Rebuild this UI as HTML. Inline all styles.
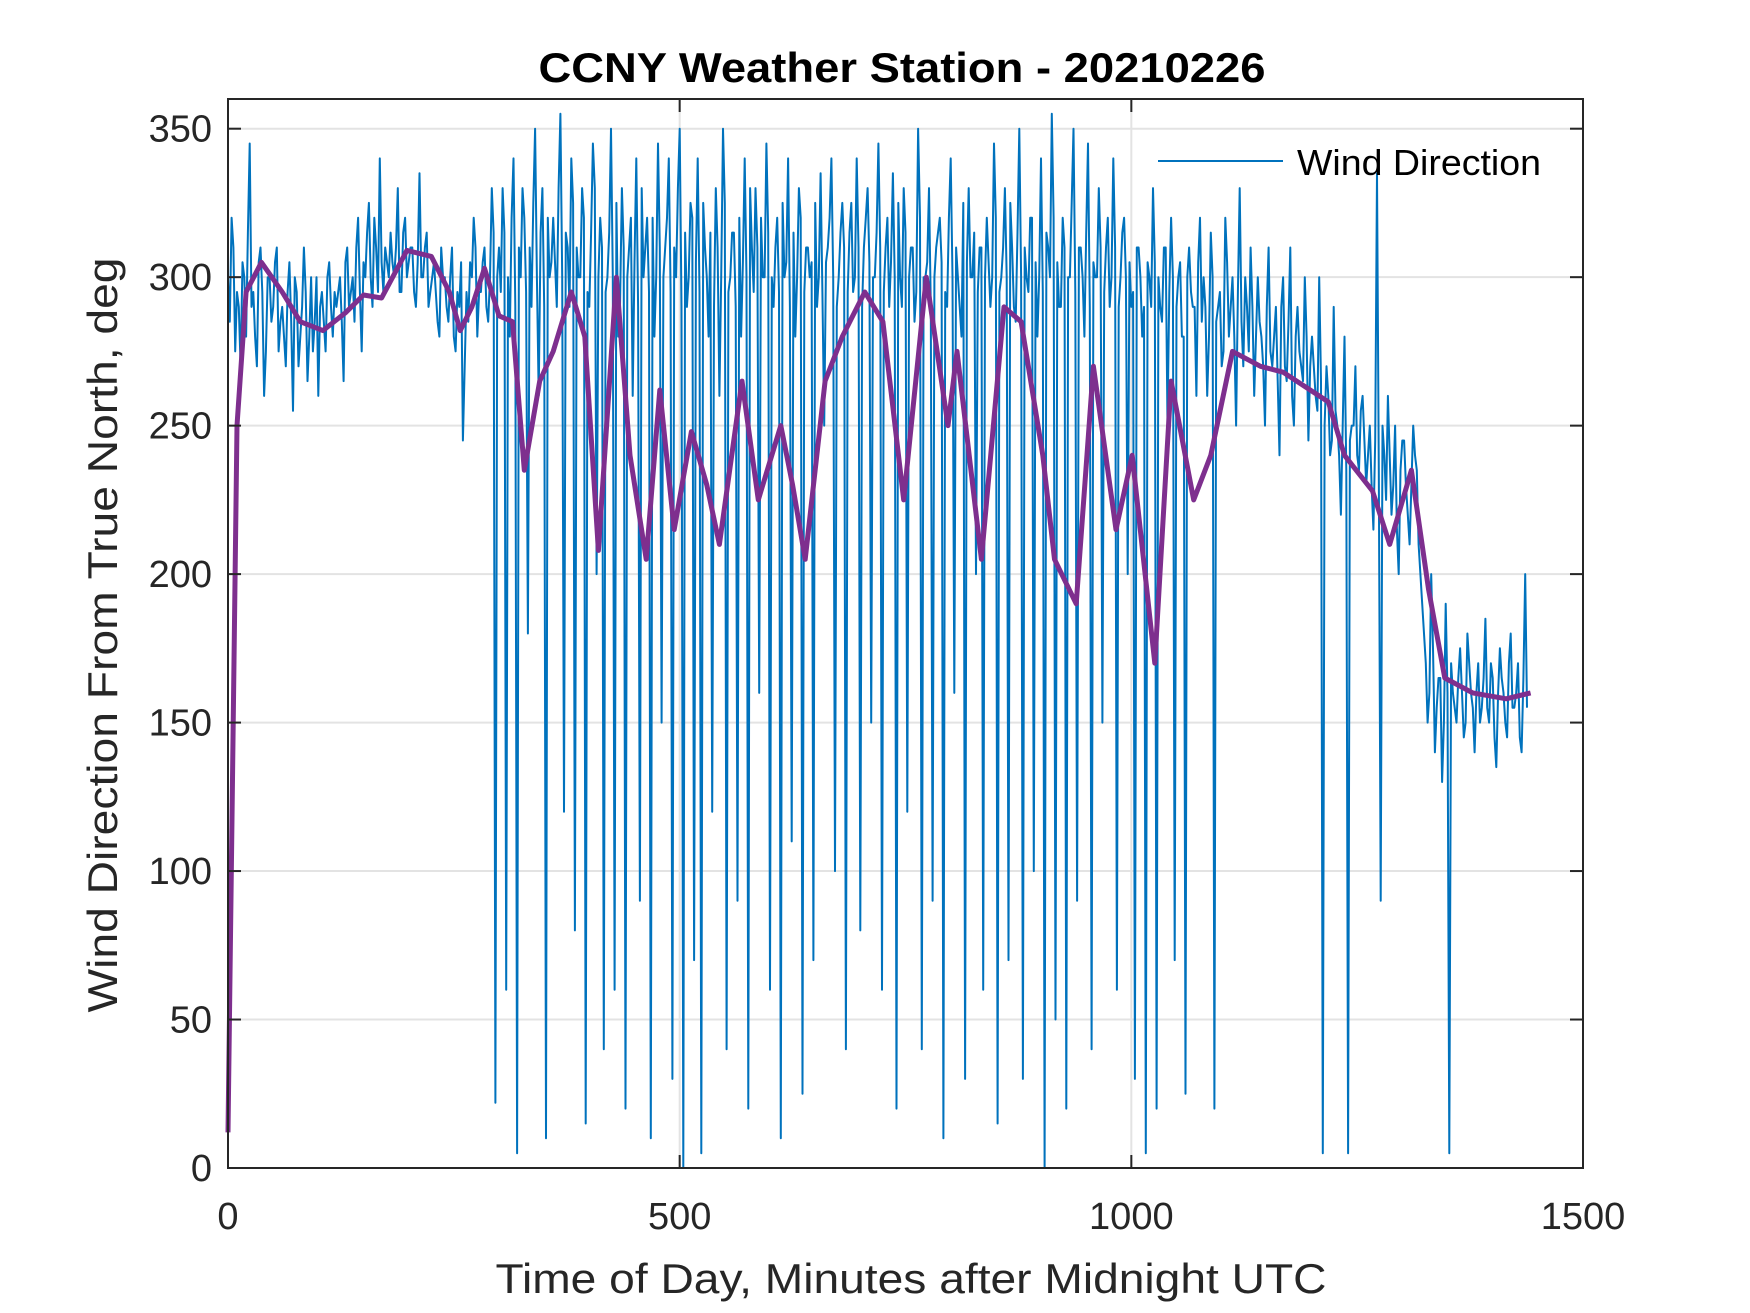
<!DOCTYPE html>
<html><head><meta charset="utf-8"><style>
html,body{margin:0;padding:0;background:#fff;}
svg{display:block;font-family:"Liberation Sans",Arial,sans-serif;}
</style></head><body>
<svg id="chart" width="1750" height="1313" viewBox="0 0 1750 1313" xmlns="http://www.w3.org/2000/svg">
<rect x="0" y="0" width="1750" height="1313" fill="#fff"/>
<g id="grid"></g>
<g id="series"></g>
<g id="axes"></g>
<text x="902" y="82" text-anchor="middle" font-weight="bold" font-size="42" textLength="727" lengthAdjust="spacingAndGlyphs" fill="#000">CCNY Weather Station - 20210226</text>
<text x="911" y="1293" text-anchor="middle" font-size="42" textLength="831" lengthAdjust="spacingAndGlyphs" fill="#262626">Time of Day, Minutes after Midnight UTC</text>
<text transform="translate(117,635) rotate(-90)" text-anchor="middle" font-size="42" textLength="755" lengthAdjust="spacingAndGlyphs" fill="#262626">Wind Direction From True North, deg</text>
<g>
<line x1="1158" y1="161" x2="1283" y2="161" stroke="#0072BD" stroke-width="2"/>
<text x="1297" y="175" font-size="36" textLength="244" lengthAdjust="spacingAndGlyphs" fill="#000">Wind Direction</text>
</g>
</svg>
<script>
const xTicks = [0, 500, 1000, 1500];
const yTicks = [0, 50, 100, 150, 200, 250, 300, 350];
const blueStep = 4;
const blueValues = [
300,320,275,290,305,280,345,295,270,310,260,300,285,305,275,
290,270,305,255,295,280,310,265,300,285,260,295,275,305,280,
290,300,265,310,295,285,320,275,300,325,290,310,340,295,305,
315,300,330,295,320,305,310,290,335,300,315,295,305,285,310,
300,285,310,275,290,245,295,305,320,280,295,310,285,330,22,
310,330,60,280,340,5,300,320,180,290,350,260,330,10,300,
320,290,355,120,310,340,80,300,330,15,290,345,200,320,40,
300,350,60,280,330,20,310,260,340,90,300,320,10,280,345,
150,310,340,30,300,350,0,290,325,70,340,5,310,280,120,
330,260,350,40,300,315,90,280,340,20,310,330,160,300,345,
60,290,320,10,300,340,110,280,330,25,310,300,70,290,335,
250,310,340,100,300,325,40,315,295,340,80,310,330,150,300,
345,60,310,290,335,20,300,330,120,310,285,350,40,300,330,
90,310,320,10,290,340,160,300,280,30,330,300,200,310,60,
320,290,345,15,300,330,70,310,285,350,30,300,320,100,280,
340,0,310,355,50,290,320,20,300,350,90,310,280,345,40,
300,330,150,310,290,340,60,300,320,200,290,30,310,280,5,
300,330,20,290,310,250,320,70,300,280,25,310,290,260,320,
300,260,315,20,290,270,320,280,300,250,330,270,290,310,260,
300,280,250,310,270,290,240,300,265,310,250,290,270,300,245,
280,260,300,5,270,240,290,250,220,280,5,250,270,235,260,
230,250,215,335,90,240,260,220,250,200,245,230,210,250,235,
200,180,150,200,140,165,130,190,5,160,150,175,145,180,160,
140,170,155,185,150,165,135,175,160,145,180,155,170,140,200
];
const blueValuesMid = [
285,310,295,270,300,315,290,280,305,295,275,300,290,310,285,
280,295,285,300,270,290,295,280,275,300,290,285,300,290,295,
295,285,305,290,300,310,295,305,315,300,320,295,305,310,300,
305,310,295,315,300,310,295,305,300,310,290,300,295,280,300,
290,300,280,295,305,270,285,300,310,295,305,290,300,315,300,
295,315,300,320,290,310,330,295,310,325,300,315,290,320,305,
305,330,300,315,290,325,310,300,320,295,315,330,300,310,295,
315,300,325,290,310,300,320,305,290,330,310,295,320,300,310,
300,320,295,310,330,290,315,300,320,305,295,325,300,315,290,
310,300,325,295,315,290,320,305,300,330,295,310,320,300,315,
300,310,295,325,305,290,315,300,320,295,310,305,325,300,295,
305,320,300,290,315,310,295,325,300,310,290,320,305,300,315,
310,295,320,305,300,325,290,315,300,310,295,320,300,305,290,
300,315,305,295,320,300,310,290,325,305,300,315,295,310,300,
305,300,320,295,310,300,325,290,315,300,310,295,320,305,300,
295,315,300,320,305,290,310,300,325,295,310,300,315,290,305,
300,310,295,320,300,310,290,315,300,305,295,310,300,290,305,
290,305,300,285,310,295,300,290,305,280,300,295,290,305,285,
290,280,300,285,295,275,305,290,280,295,285,300,275,290,280,
285,270,290,275,280,265,290,270,285,260,280,275,265,280,270,
270,255,265,250,260,245,255,240,250,235,245,250,240,255,245,
240,230,245,235,250,225,240,230,215,235,245,220,230,240,210,
190,170,160,175,155,165,150,160,170,155,165,160,150,170,155,
160,150,165,155,170,145,160,165,150,170,155,160,145,165,155
];
const avgMinutes = [0,10,20,37,60,80,105,130,150,170,198,225,245,257,270,284,300,315,328,345,360,380,395,410,430,445,463,478,494,513,530,544,569,587,612,625,639,661,680,705,725,748,773,797,807,834,859,878,902,915,939,958,983,1001,1026,1044,1069,1088,1112,1143,1168,1218,1236,1267,1286,1310,1329,1347,1378,1415,1442];
const avgValues = [12,250,295,305,295,285,282,288,294,293,309,307,295,282,290,303,287,285,235,265,275,295,280,208,300,240,205,262,215,248,230,210,265,225,250,230,205,265,280,295,285,225,300,250,275,205,290,285,240,205,190,270,215,240,170,265,225,240,275,270,268,258,240,228,210,235,195,165,160,158,160];

const NS = 'http://www.w3.org/2000/svg';
const L = 228, R = 1583, T = 99, B = 1168;
function xs(v){ return L + (v/1500)*(R-L); }
function ys(v){ return B - (v/360)*(B-T); }
function mk(tag, attrs, parent){
  const e = document.createElementNS(NS, tag);
  for (const k in attrs) e.setAttribute(k, attrs[k]);
  parent.appendChild(e); return e;
}
const grid = document.getElementById('grid');
const axes = document.getElementById('axes');
const series = document.getElementById('series');

yTicks.forEach(v => {
  const g = mk('line', {x1:L, x2:R, y1:ys(v), y2:ys(v), stroke:'#e3e3e3', 'stroke-width':2}, grid);
  
  
});
xTicks.forEach(v => {
  const g = mk('line', {x1:xs(v), x2:xs(v), y1:T, y2:B, stroke:'#e3e3e3', 'stroke-width':2}, grid);
  
  
});

let d = '';
blueValues.forEach((v,i) => {
  d += (i ? 'L' : 'M') + xs(i*blueStep).toFixed(1) + ' ' + ys(v).toFixed(1);
  if (i < blueValuesMid.length) d += 'L' + xs(i*blueStep + blueStep/2).toFixed(1) + ' ' + ys(blueValuesMid[i]).toFixed(1);
});
const blue = mk('path', {d:d, fill:'none', stroke:'#0072BD', 'stroke-width':2, 'stroke-linejoin':'round'}, series);



let d2 = '';
avgMinutes.forEach((m,i) => { d2 += (i ? 'L' : 'M') + xs(m).toFixed(1) + ' ' + ys(avgValues[i]).toFixed(1); });
const purp = mk('path', {d:d2, fill:'none', stroke:'#7E2F8E', 'stroke-width':5, 'stroke-linejoin':'round'}, series);



const box = mk('rect', {x:L, y:T, width:R-L, height:B-T, fill:'none', stroke:'#262626', 'stroke-width':2}, axes);



yTicks.forEach(v => {
  mk('line', {x1:L, x2:L+13, y1:ys(v), y2:ys(v), stroke:'#262626', 'stroke-width':2}, axes);
  mk('line', {x1:R-13, x2:R, y1:ys(v), y2:ys(v), stroke:'#262626', 'stroke-width':2}, axes);
  const t = mk('text', {x:L-16, y:ys(v)+13, 'text-anchor':'end', 'font-size':38, fill:'#262626'}, axes);
  t.textContent = v;
  
  
});
xTicks.forEach(v => {
  mk('line', {x1:xs(v), x2:xs(v), y1:B, y2:B-13, stroke:'#262626', 'stroke-width':2}, axes);
  mk('line', {x1:xs(v), x2:xs(v), y1:T, y2:T+13, stroke:'#262626', 'stroke-width':2}, axes);
  const t = mk('text', {x:xs(v), y:1229, 'text-anchor':'middle', 'font-size':38, fill:'#262626'}, axes);
  t.textContent = v;
  
  
});
</script>
</body></html>
